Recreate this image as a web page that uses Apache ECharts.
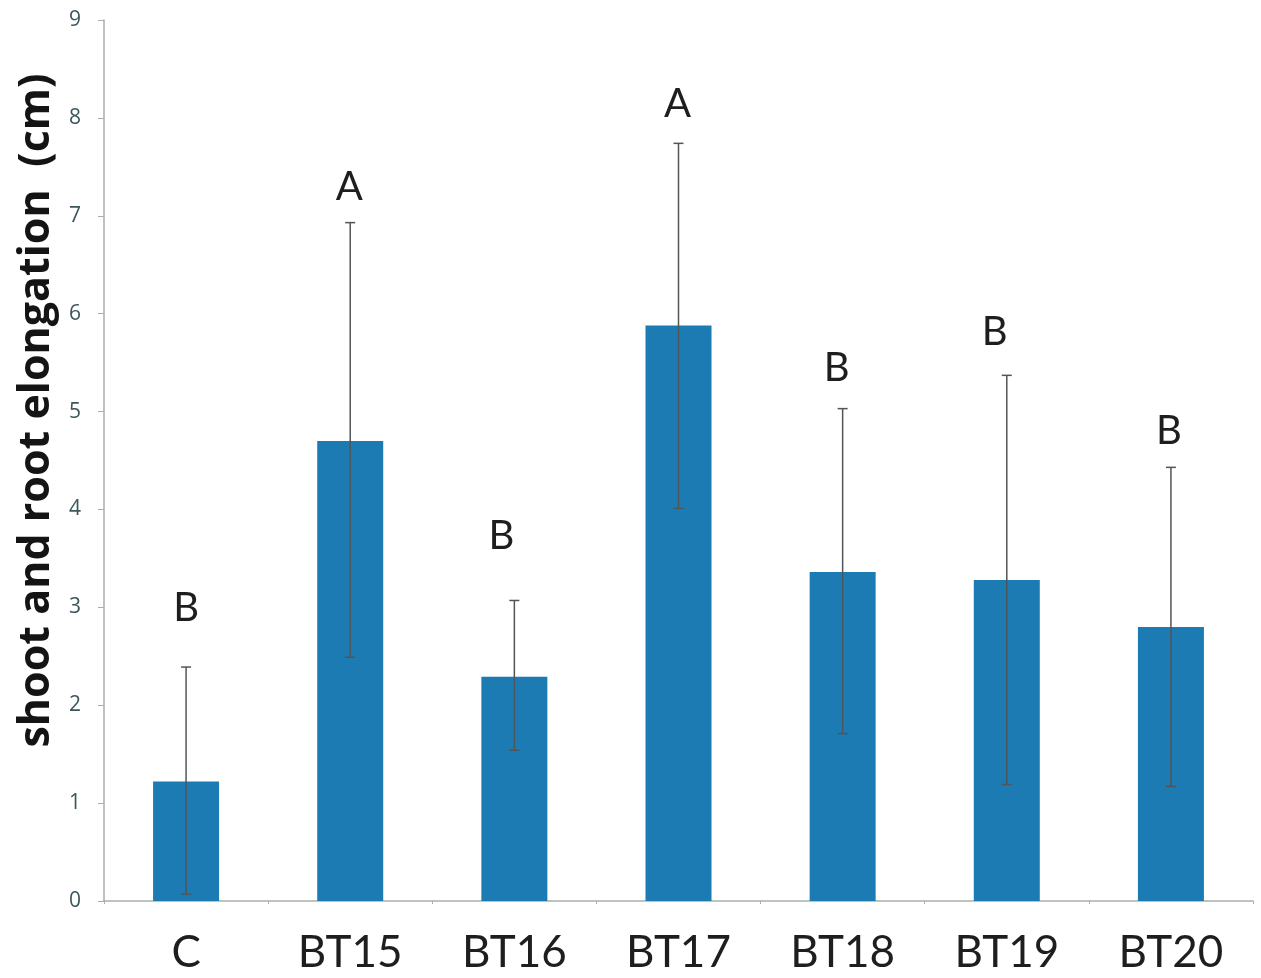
<!DOCTYPE html>
<html>
<head>
<meta charset="utf-8">
<script src="https://cdn.jsdelivr.net/npm/echarts@6/dist/echarts.min.js"></script>
<style>
  html, body { margin: 0; padding: 0; background: #ffffff; }
  #chart { width: 1261px; height: 978px; }
</style>
</head>
<body>
<div id="chart"></div>
<script>
// Treatments and mean elongation (cm)
const categories = ['C', 'BT15', 'BT16', 'BT17', 'BT18', 'BT19', 'BT20'];
const means = [1.22, 4.70, 2.29, 5.88, 3.36, 3.28, 2.80];
// Error bar ends (cm)
const errLow = [0.07, 2.49, 1.54, 4.01, 1.71, 1.19, 1.17];
const errHigh = [2.39, 6.93, 3.07, 7.74, 5.03, 5.37, 4.43];
// Significance groups and the height (cm) at which each letter sits
const groups = ['B', 'A', 'B', 'A', 'B', 'B', 'B'];
const groupLevel = [2.99, 7.29, 3.73, 8.14, 5.44, 5.81, 4.80];
// Y axis range
const yMin = 0, yMax = 9, yStep = 1;

// Small horizontal nudges (px) for the group letters
const letterNudgeX = [0, -1, -13, -1, -6, -12, -2];

const errData = categories.map((c, i) => [i, errLow[i], errHigh[i]]);
const letterData = categories.map((c, i) => [i, groupLevel[i]]);

const chart = echarts.init(document.getElementById('chart'));
chart.setOption({
  backgroundColor: '#ffffff',
  animation: false,
  grid: { left: 104, right: 8, top: 20, bottom: 77, containLabel: false },
  xAxis: {
    type: 'category',
    data: categories,
    axisLine: { show: true, lineStyle: { color: '#a8aeb0', width: 1.5 } },
    axisTick: { show: true, length: 3, lineStyle: { color: '#a8aeb0' } },
    axisLabel: {
      margin: 30,
      fontFamily: 'Lato, sans-serif',
      fontSize: 44,
      color: '#1e1e1e'
    }
  },
  yAxis: {
    type: 'value',
    min: yMin, max: yMax, interval: yStep,
    name: 'shoot and root elongation  (cm)',
    nameLocation: 'middle',
    nameGap: 45,
    nameRotate: 90,
    nameTextStyle: {
      fontFamily: 'Open Sans, sans-serif',
      fontWeight: 'bold',
      fontSize: 43,
      color: '#141414',
      padding: [0, 0, 0, 100]
    },
    axisLine: { show: true, lineStyle: { color: '#a8aeb0', width: 1.5 } },
    axisTick: { show: true, length: 6, lineStyle: { color: '#a8aeb0' } },
    splitLine: { show: false },
    axisLabel: {
      margin: 23,
      fontFamily: 'Open Sans, sans-serif',
      fontSize: 21,
      color: '#3b575c'
    }
  },
  series: [
    {
      type: 'bar',
      data: means,
      barWidth: 66,
      itemStyle: { color: '#1d7bb3' }
    },
    {
      type: 'custom',
      data: errData,
      z: 5,
      renderItem: function (params, api) {
        const x = api.value(0);
        const lo = api.coord([x, api.value(1)]);
        const hi = api.coord([x, api.value(2)]);
        const cap = 5;
        const style = { stroke: '#50555a', lineWidth: 1.5 };
        return {
          type: 'group',
          children: [
            { type: 'line', shape: { x1: lo[0], y1: lo[1], x2: hi[0], y2: hi[1] }, style: style },
            { type: 'line', shape: { x1: hi[0] - cap, y1: hi[1], x2: hi[0] + cap, y2: hi[1] }, style: style },
            { type: 'line', shape: { x1: lo[0] - cap, y1: lo[1], x2: lo[0] + cap, y2: lo[1] }, style: style }
          ]
        };
      }
    },
    {
      type: 'custom',
      data: letterData,
      z: 6,
      renderItem: function (params, api) {
        const i = params.dataIndex;
        const p = api.coord([api.value(0), api.value(1)]);
        return {
          type: 'text',
          x: p[0] + letterNudgeX[i], y: p[1],
          style: {
            text: groups[i],
            fontFamily: 'Lato, sans-serif',
            fontSize: 40,
            fill: '#1e1e1e',
            align: 'center',
            verticalAlign: 'middle'
          }
        };
      }
    }
  ]
});
</script>
</body>
</html>
